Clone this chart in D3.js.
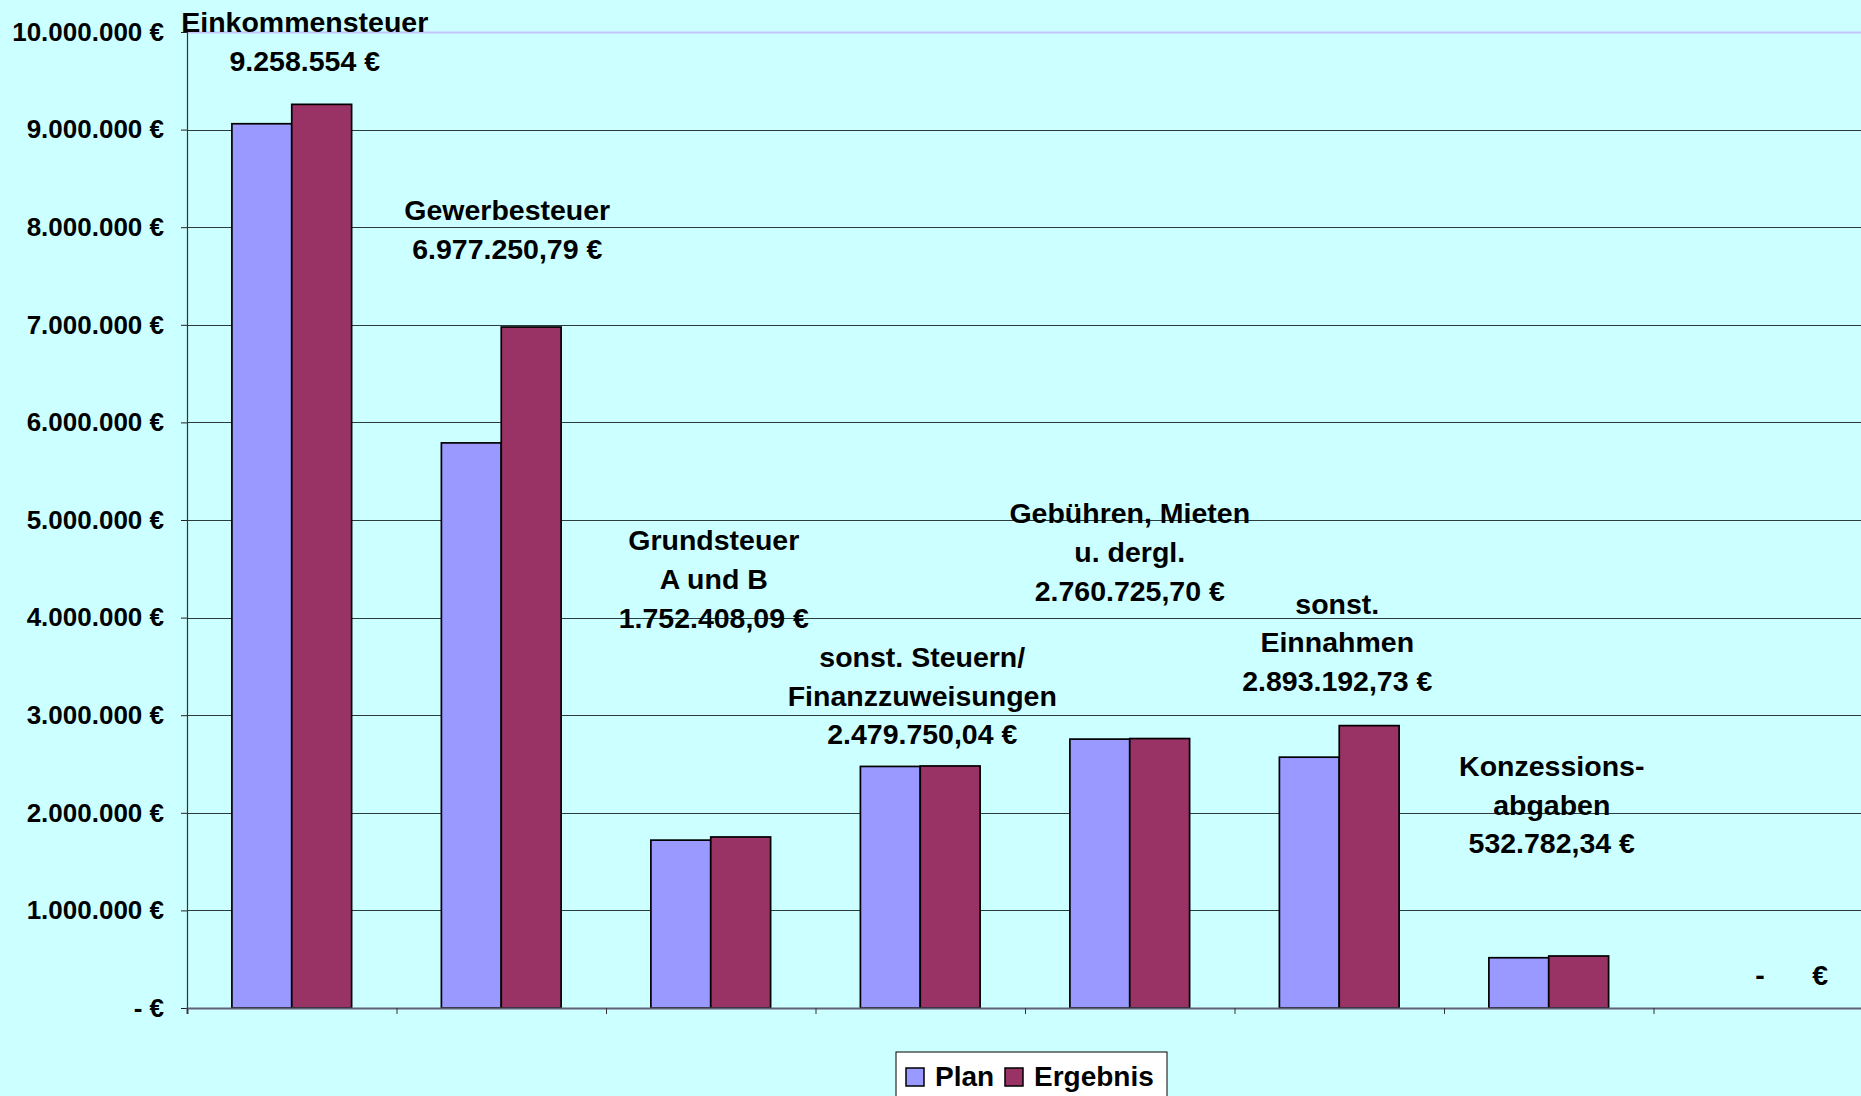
<!DOCTYPE html>
<html>
<head>
<meta charset="utf-8">
<script src="https://cdn.jsdelivr.net/npm/d3@7"></script>
<style>
  html, body { margin: 0; padding: 0; background: #CCFFFF; overflow: hidden; }
  svg { display: block; }
  text { font-family: "Liberation Sans", Arial, sans-serif; font-weight: bold; fill: #000; }
</style>
</head>
<body>
<svg id="chart" width="1861" height="1096"></svg>
<script>
// ---------- data ----------
const categories = [
  "Einkommensteuer",
  "Gewerbesteuer",
  "Grundsteuer\nA und B",
  "sonst. Steuern/\nFinanzzuweisungen",
  "Gebühren, Mieten\nu. dergl.",
  "sonst.\nEinnahmen",
  "Konzessions-\nabgaben",
  ""
];
const seriesNames = ["Plan", "Ergebnis"];
const planValues     = [9060000, 5790000, 1720000, 2475000, 2755000, 2570000, 515000, 0];
const ergebnisValues = [9258554, 6977250.79, 1752408.09, 2479750.04, 2760725.70, 2893192.73, 532782.34, 0];
const yTickValues = [0, 1000000, 2000000, 3000000, 4000000, 5000000, 6000000, 7000000, 8000000, 9000000, 10000000];
// where (in €, on the value axis) the last line of each data label sits
const labelAnchorValues = [9603000, 7674000, 3896000, 2702000, 4173000, 3248000, 1585000, 236000];

// ---------- layout ----------
const W = 1861, H = 1096;
const plot = { left: 187, right: 1863, top: 32, bottom: 1008 };
const colors = { Plan: "#9999FF", Ergebnis: "#993366" };
const labelNudge = [13, 6, 3, 2, 0, -2, 3, -3]; // small horizontal placement of labels (px)

const svg = d3.select("#chart");
svg.append("rect").attr("width", W).attr("height", H).attr("fill", "#CCFFFF");

const idx = categories.map((_, i) => i);
const x = d3.scaleBand().domain(idx).range([plot.left, plot.right]).padding(0);
const x1 = d3.scaleBand().domain(seriesNames).range([0, x.bandwidth()]).paddingInner(0).paddingOuter(0.75);
const y = d3.scaleLinear().domain([0, 10000000]).range([plot.bottom, plot.top]);
const xEdges = d3.scaleLinear().domain([0, categories.length]).range([plot.left, plot.right]);

const de = d3.formatLocale({ decimal: ",", thousands: ".", grouping: [3], currency: ["", " €"] });
const fmt0 = de.format(",.0f"), fmt2 = de.format(",.2f");
const tickFmt = v => v === 0 ? "- €" : fmt0(v) + " €";
const valFmt = v => v === 0 ? "-      €" : (Number.isInteger(v) ? fmt0(v) : fmt2(v)) + " €";

// gridlines
svg.append("g").selectAll("line").data(yTickValues.filter(v => v > 0)).join("line")
  .attr("x1", plot.left).attr("x2", W)
  .attr("y1", d => Math.round(y(d)) + 0.5).attr("y2", d => Math.round(y(d)) + 0.5)
  .attr("stroke", d => d === 10000000 ? "#C4C4FA" : "#2a3c3c")
  .attr("stroke-width", d => d === 10000000 ? 2 : 1.2);

// bars
const rows = idx.map(i => ({ i, Plan: planValues[i], Ergebnis: ergebnisValues[i] }));
const groups = svg.append("g").selectAll("g").data(rows).join("g")
  .attr("transform", d => `translate(${x(d.i)},0)`);
groups.selectAll("rect").data(d => seriesNames.map(s => ({ s, v: d[s] })).filter(e => e.v > 0)).join("rect")
  .attr("x", d => x1(d.s)).attr("width", x1.bandwidth())
  .attr("y", d => y(d.v)).attr("height", d => y(0) - y(d.v))
  .attr("fill", d => colors[d.s]).attr("stroke", "#000").attr("stroke-width", 1.7);

// y axis
const yAxis = svg.append("g").attr("transform", `translate(${plot.left},0)`)
  .call(d3.axisLeft(y).tickValues(yTickValues).tickSize(6).tickPadding(17).tickFormat(tickFmt));
yAxis.select(".domain").attr("stroke", "#333").attr("stroke-width", 1.2);
yAxis.selectAll(".tick line").attr("stroke", "#222");
yAxis.selectAll("text").attr("font-size", 26).attr("font-family", "Liberation Sans, Arial, sans-serif")
  .attr("font-weight", "bold").attr("fill", "#000");

// x axis (category boundaries)
const xAxis = svg.append("g").attr("transform", `translate(0,${plot.bottom})`)
  .call(d3.axisBottom(xEdges).tickValues(d3.range(0, categories.length + 1)).tickSize(6).tickFormat(""));
xAxis.select(".domain").attr("stroke", "#606078").attr("stroke-width", 2.2);
xAxis.selectAll(".tick line").attr("stroke", "#333");

// data labels (category name + Ergebnis value)
const lineH = 38.7;
const labels = svg.append("g").selectAll("text").data(rows).join("text")
  .attr("text-anchor", d => d.i === categories.length - 1 ? "start" : "middle")
  .attr("font-size", 28.5)
  .style("white-space", "pre");
labels.each(function(d) {
  const lines = (categories[d.i] ? categories[d.i].split("\n") : []).concat([valFmt(ergebnisValues[d.i])]);
  const cx = x(d.i) + x.bandwidth() / 2 + labelNudge[d.i];
  const baseY = y(labelAnchorValues[d.i]);
  d3.select(this).selectAll("tspan").data(lines).join("tspan")
    .attr("x", cx)
    .attr("y", (l, k) => baseY - (lines.length - 1 - k) * lineH)
    .text(l => l);
});

// legend
const lg = svg.append("g").attr("transform", "translate(896,1052)");
lg.append("rect").attr("width", 271).attr("height", 50).attr("fill", "#fff").attr("stroke", "#000").attr("stroke-width", 1);
const legendItems = [{ s: "Plan", x: 10 }, { s: "Ergebnis", x: 109 }];
const li = lg.selectAll("g").data(legendItems).join("g").attr("transform", d => `translate(${d.x},16)`);
li.append("rect").attr("width", 18).attr("height", 18).attr("fill", d => colors[d.s]).attr("stroke", "#000").attr("stroke-width", 1.5);
li.append("text").attr("x", 29).attr("y", 18).attr("font-size", 28).text(d => d.s);
</script>
</body>
</html>
